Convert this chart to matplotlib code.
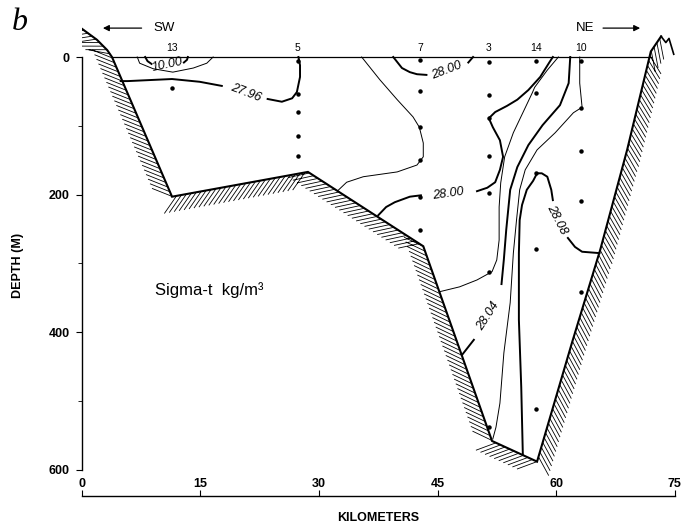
import matplotlib
matplotlib.use('Agg')
import matplotlib.pyplot as plt
import matplotlib.patheffects as pe

plt.rcParams['font.family'] = ['Liberation Sans', 'DejaVu Sans']

# sea floor profile along the section (km, depth m)
bottom_km = [0.0, 1.9, 3.2, 3.8, 11.4, 28.6, 43.2, 51.9, 57.6, 62.0, 65.6, 69.0,
             72.0, 73.3]
bottom_depth = [-41, -25, -10, 0, 203, 167, 275, 558, 588, 416, 280, 135,
                -8, -30]
peak_km = [73.3, 73.9, 74.3, 74.9]
peak_depth = [-30, -21, -27, -4]
surface_km = [3.8, 72.0]

# stations and sample depths
station_names = ['13', '5', '7', '3', '14', '10']
station_km = [11.4, 27.3, 42.8, 51.5, 57.5, 63.2]
sample_depths = [
    [45],
    [6, 54, 80, 115, 144],
    [4, 49, 102, 150, 203, 251],
    [7, 55, 89, 144, 198, 312, 538],
    [6, 52, 169, 279, 511],
    [6, 74, 137, 209, 341],
]

# sigma-t isolines, traced from the section
arc_outer_km = [7.0, 7.3, 9.0, 11.5, 14.1, 15.8, 16.6]
arc_outer_d = [0, 9, 17, 22, 16, 9, 0]
arc_inner_a_km = [8.0, 8.3, 8.8]
arc_inner_a_d = [0, 6, 10]
arc_inner_b_km = [12.9, 13.3, 13.4]
arc_inner_b_d = [8, 4, 0]

c2796_a_km = [4.9, 5.8, 11.4, 14.9, 17.7]
c2796_a_d = [35, 35, 32, 36, 42]
c2796_b_km = [23.5, 25.3, 26.6, 27.2, 27.6, 27.6, 27.4]
c2796_b_d = [61, 65, 60, 51, 29, 12, 0]

thin7_km = [35.4, 37.7, 39.9, 41.9, 42.7, 43.2, 43.2, 42.4, 39.9, 35.6, 33.5, 32.4]
thin7_d = [0, 33, 62, 87, 102, 125, 145, 157, 167, 174, 182, 194]

c2800_top_a_km = [39.4, 40.5, 41.5, 42.4, 43.6]
c2800_top_a_d = [0, 16, 22, 25, 26]
c2800_top_b_km = [48.9, 49.5]
c2800_top_b_d = [8, 0]

c2800_low_a_km = [37.5, 38.5, 39.6, 41.5, 42.9]
c2800_low_a_d = [230, 218, 211, 203, 201]
c2800_low_b_km = [50.0, 51.3, 52.3, 52.9, 53.3, 52.9, 52.0, 51.5, 52.3, 53.8, 55.1,
                  56.5, 58.0, 59.2, 59.6]
c2800_low_b_d = [195, 190, 182, 164, 145, 121, 102, 89, 80, 71, 62, 48, 29, 7, 0]

thinA_km = [60.3, 58.9, 57.3, 57.0, 55.8, 54.6, 53.5, 53.0, 52.8, 52.8, 52.5, 51.9,
            50.0, 47.8, 45.3]
thinA_d = [0, 19, 44, 52, 81, 110, 145, 183, 218, 266, 295, 312, 324, 334, 341]

c2804_a_km = [61.8, 61.6, 60.5, 58.3, 56.5, 55.1, 54.2, 53.7, 53.4, 53.1]
c2804_a_d = [0, 38, 70, 99, 128, 160, 193, 251, 294, 330]
c2804_b_km = [49.6, 48.1]
c2804_b_d = [411, 433]

thinC_km = [63.0, 63.0, 63.3, 62.2, 59.9, 57.6, 56.1, 55.4, 55.0, 54.6, 54.2, 53.4,
            52.9, 52.4, 52.0]
thinC_d = [0, 38, 73, 81, 110, 135, 164, 193, 237, 285, 357, 430, 503, 538, 555]

c2808_a_km = [55.8, 55.6, 55.3, 55.3, 55.4, 55.7, 56.3, 57.1, 57.6, 58.2, 58.9, 59.4, 59.6]
c2808_a_d = [578, 480, 382, 285, 237, 215, 193, 180, 169, 169, 174, 193, 208]
c2808_b_km = [61.5, 62.4, 63.3, 65.5]
c2808_b_d = [263, 276, 283, 285]

fig = plt.figure(figsize=(6.83, 5.24), dpi=100)
ax = fig.add_axes([0.120, 0.0534, 0.8676, 0.9166])
ax.set_xlim(0, 75)
ax.set_ylim(638, -60)

# bottom with hatching
ax.plot(bottom_km, bottom_depth, color='k', lw=1.5, solid_joinstyle='miter',
        path_effects=[pe.withTickedStroke(angle=-135, spacing=3.6, length=4.2,
                                          linewidth=0.6)])
ax.plot(peak_km, peak_depth, color='k', lw=1.2)
ax.plot(surface_km, [0, 0], color='k', lw=0.9)

thick = dict(color='k', lw=1.4)
thin = dict(color='k', lw=0.7)
ax.plot(arc_outer_km, arc_outer_d, **thin)
ax.plot(arc_inner_a_km, arc_inner_a_d, **thick)
ax.plot(arc_inner_b_km, arc_inner_b_d, **thick)
ax.plot(c2796_a_km, c2796_a_d, **thick)
ax.plot(c2796_b_km, c2796_b_d, **thick)
ax.plot(thin7_km, thin7_d, **thin)
ax.plot(c2800_top_a_km, c2800_top_a_d, **thick)
ax.plot(c2800_top_b_km, c2800_top_b_d, **thick)
ax.plot(c2800_low_a_km, c2800_low_a_d, **thick)
ax.plot(c2800_low_b_km, c2800_low_b_d, **thick)
ax.plot(thinA_km, thinA_d, **thin)
ax.plot(c2804_a_km, c2804_a_d, **thick)
ax.plot(c2804_b_km, c2804_b_d, **thick)
ax.plot(thinC_km, thinC_d, **thin)
ax.plot(c2808_a_km, c2808_a_d, **thick)
ax.plot(c2808_b_km, c2808_b_d, **thick)

lab = dict(fontsize=9, style='italic', ha='center', va='center')
ax.text(10.8, 12, '10.00', rotation=12, **lab)
ax.text(20.7, 52, '27.96', rotation=-21, **lab)
ax.text(46.2, 19, '28.00', rotation=21, **lab)
ax.text(46.4, 199, '28.00', rotation=8, **lab)
ax.text(51.35, 377, '28.04', rotation=57, **lab)
ax.text(60.05, 237, '28.08', rotation=-63, **lab)

# stations
for name, km, depths in zip(station_names, station_km, sample_depths):
    ax.plot([km] * len(depths), depths, 'o', color='k', ms=2.2)
    ax.text(km, -6, name, fontsize=7.5, ha='center', va='bottom')

ax.text(9.2, 339, 'Sigma-t  kg/m³', fontsize=12, ha='left', va='center')

# direction arrows
arrow = dict(arrowstyle='-|>', color='k', lw=0.9, mutation_scale=9)
ax.annotate('', xy=(2.3, -42), xytext=(7.9, -42), arrowprops=arrow)
ax.text(9.0, -42, 'SW', fontsize=9.5, ha='left', va='center')
ax.annotate('', xy=(71.0, -42), xytext=(65.6, -42), arrowprops=arrow)
ax.text(64.9, -42, 'NE', fontsize=9.5, ha='right', va='center')

# axes
for s in ['top', 'right']:
    ax.spines[s].set_visible(False)
ax.spines['left'].set_bounds(0, 600)
ax.spines['left'].set_linewidth(1.0)
ax.spines['bottom'].set_linewidth(1.0)
ax.set_xticks([0, 15, 30, 45, 60, 75])
ax.tick_params(axis='x', direction='in', length=4, pad=-13, labelsize=9)
ax.set_yticks([0, 200, 400, 600])
ax.set_yticks([100, 300, 500], minor=True)
ax.tick_params(axis='y', direction='out', length=4, pad=5, labelsize=9)
ax.tick_params(axis='y', which='minor', direction='out', length=3)
for t in ax.get_xticklabels() + ax.get_yticklabels():
    t.set_fontweight('bold')

ax.set_xlabel('KILOMETERS', fontsize=9, fontweight='bold')
ax.xaxis.set_label_coords(0.5, -0.033)
ax.set_ylabel('DEPTH (M)', fontsize=9, fontweight='bold')
ax.yaxis.set_label_coords(-0.097, 0.48)

fig.text(0.029, 0.958, 'b', fontsize=23, style='italic', family='Liberation Serif',
         ha='center', va='center')

fig.savefig('out.png', dpi=100)
